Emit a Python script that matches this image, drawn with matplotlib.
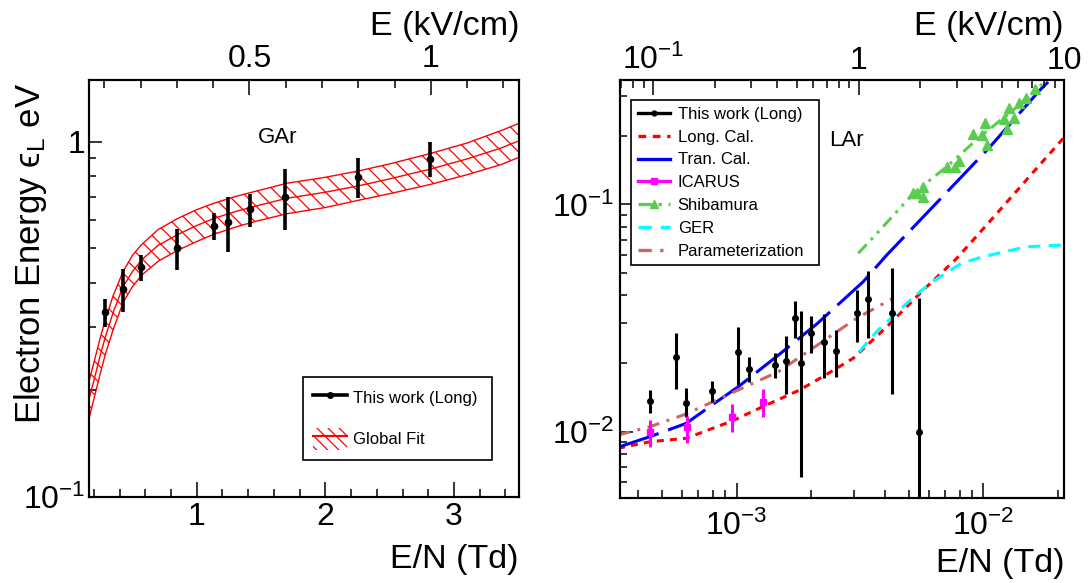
import numpy as np
import matplotlib.pyplot as plt
from matplotlib.lines import Line2D
from matplotlib.patches import Patch
from matplotlib.ticker import FuncFormatter, LogLocator, MultipleLocator, NullFormatter

plt.rcParams['font.family'] = ['Liberation Sans', 'DejaVu Sans']
plt.rcParams['mathtext.fontset'] = 'custom'
plt.rcParams['mathtext.rm'] = 'Liberation Sans'
plt.rcParams['mathtext.it'] = 'Liberation Sans:italic'
plt.rcParams['mathtext.bf'] = 'Liberation Sans:bold'
plt.rcParams['mathtext.fallback'] = 'stixsans'
plt.rcParams['hatch.linewidth'] = 0.9

# ---- GAr (left panel), E/N in Td, energy in eV ----
gar_en = [0.290, 0.427, 0.570, 0.847, 1.132, 1.241, 1.412, 1.686, 2.256, 2.815]
gar_val = [0.331, 0.385, 0.443, 0.501, 0.580, 0.595, 0.645, 0.700, 0.797, 0.894]
gar_hi = [0.360, 0.437, 0.480, 0.567, 0.631, 0.700, 0.712, 0.836, 0.901, 1.000]
gar_lo = [0.301, 0.331, 0.406, 0.435, 0.529, 0.487, 0.574, 0.564, 0.693, 0.797]

fit_en = [0.165, 0.2, 0.25, 0.29, 0.35, 0.427, 0.5, 0.57, 0.7, 0.847, 1.0,
          1.132, 1.3, 1.443, 1.7, 2.0, 2.256, 2.5, 2.815, 3.1, 3.37, 3.505]
fit_mid = [0.190, 0.212, 0.250, 0.282, 0.330, 0.390, 0.430, 0.464, 0.510, 0.546, 0.580,
           0.607, 0.635, 0.656, 0.692, 0.720, 0.750, 0.785, 0.836, 0.893, 0.960, 1.005]
fit_up = [0.213, 0.238, 0.280, 0.315, 0.368, 0.430, 0.478, 0.512, 0.565, 0.606, 0.643,
          0.670, 0.700, 0.722, 0.763, 0.793, 0.826, 0.865, 0.925, 0.990, 1.075, 1.125]
fit_lo = [0.167, 0.188, 0.222, 0.252, 0.295, 0.352, 0.390, 0.420, 0.460, 0.493, 0.523,
          0.548, 0.574, 0.594, 0.626, 0.652, 0.683, 0.713, 0.757, 0.806, 0.862, 0.903]

# ---- LAr (right panel) ----
lar_en = [4.46e-4, 5.66e-4, 6.25e-4, 7.96e-4, 1.016e-3, 1.122e-3, 1.429e-3, 1.578e-3, 1.726e-3,
          1.815e-3, 2.004e-3, 2.27e-3, 2.527e-3, 3.08e-3, 3.40e-3, 4.27e-3, 5.50e-3]
lar_val = [0.01368, 0.0213, 0.01337, 0.0152, 0.02239, 0.01898, 0.0197, 0.02058, 0.03178,
           0.02018, 0.02731, 0.02493, 0.02277, 0.03342, 0.03846, 0.03342, 0.0100]
lar_hi = [0.0153, 0.0272, 0.01567, 0.01683, 0.02904, 0.02142, 0.02218, 0.02643, 0.03776,
          0.03413, 0.03236, 0.0330, 0.0281, 0.04206, 0.0510, 0.0525, 0.0387]
lar_lo = [0.01208, 0.01545, 0.01167, 0.01359, 0.0161, 0.0165, 0.01721, 0.01469, 0.02583,
          0.00632, 0.02233, 0.01721, 0.01741, 0.02494, 0.02583, 0.01466, 0.0001]

icarus_en = [4.46e-4, 6.27e-4, 9.6e-4, 1.277e-3]
icarus_val = [0.00997, 0.01055, 0.01167, 0.01355]
icarus_hi = [0.0113, 0.01175, 0.01324, 0.01545]
icarus_lo = [0.00861, 0.00892, 0.00997, 0.01161]

long_en = [3.31e-4, 4.46e-4, 6.25e-4, 9.6e-4, 1.277e-3, 1.802e-3, 2.27e-3, 2.97e-3,
           4.06e-3, 5.71e-3, 7.8e-3, 1.13e-2, 1.62e-2, 2.12e-2]
long_val = [0.00848, 0.00906, 0.00938, 0.01118, 0.01292, 0.0153, 0.01768, 0.0211,
            0.0290, 0.0421, 0.058, 0.091, 0.1418, 0.197]

tran_en = [3.31e-4, 4.46e-4, 6.25e-4, 7.96e-4, 1.016e-3, 1.477e-3, 2.125e-3, 3.26e-3,
           4.06e-3, 7.8e-3, 1.064e-2, 1.694e-2, 1.95e-2]
tran_val = [0.00857, 0.00954, 0.01091, 0.01315, 0.01581, 0.02178, 0.0300, 0.0458,
            0.060, 0.1259, 0.1795, 0.3187, 0.37]

shib_line_en = [3.11e-3, 3.81e-3, 5.20e-3, 7.1e-3, 9.68e-3, 1.32e-2, 1.62e-2, 1.8e-2]
shib_line_val = [0.061, 0.0772, 0.1119, 0.1466, 0.1986, 0.260, 0.318, 0.352]
shib_en = [5.20e-3, 5.40e-3, 5.67e-3, 5.71e-3, 7.10e-3, 7.68e-3, 7.99e-3, 9.10e-3, 9.90e-3,
           1.031e-2, 1.018e-2, 1.212e-2, 1.243e-2, 1.274e-2, 1.334e-2, 1.398e-2, 1.488e-2, 1.619e-2]
shib_val = [0.1120, 0.1127, 0.1190, 0.1075, 0.1457, 0.1457, 0.1559, 0.2042, 0.2020,
            0.1826, 0.2274, 0.2375, 0.2140, 0.2665, 0.2392, 0.2803, 0.2928, 0.3208]

ger_en = [3.14e-3, 3.69e-3, 4.89e-3, 5.53e-3, 6.37e-3, 8.15e-3, 9.99e-3, 1.498e-2, 2.12e-2]
ger_val = [0.02253, 0.0276, 0.0368, 0.0414, 0.0466, 0.0552, 0.0590, 0.0652, 0.0664]

par_en = [3.31e-4, 4.46e-4, 6.25e-4, 1.016e-3, 1.477e-3, 2.125e-3, 3.06e-3, 4.27e-3]
par_val = [0.0097, 0.01055, 0.0120, 0.0153, 0.0184, 0.0241, 0.0316, 0.0385]

td_per_kv_gas = 2.82

GREEN = '#5ACD50'
BROWN = '#CC6666'
TICK = 23
LAB = 24.5
W, H = 1092, 583


def log_fmt(v, pos):
    if abs(v - 1) < 1e-9:
        return '1'
    if abs(v - 10) < 1e-9:
        return '10'
    return r'$10^{%d}$' % int(round(np.log10(v)))


def style(ax, xpad=3, ypad=3):
    for s in ax.spines.values():
        s.set_linewidth(1.5)
    ax.tick_params(which='both', direction='in', top=False, right=False,
                   labelsize=TICK, width=1.1)
    ax.tick_params(axis='x', which='major', length=11, pad=xpad)
    ax.tick_params(axis='x', which='minor', length=5.5)
    ax.tick_params(axis='y', which='major', length=9, pad=ypad)
    ax.tick_params(axis='y', which='minor', length=5)


fig = plt.figure(figsize=(10.92, 5.83), dpi=100)

# ================= left panel =================
ax1 = fig.add_axes([89.3 / W, 1 - 496.7 / H, 429.7 / W, 416.7 / H])
ax1.set_yscale('log')
ax1.set_xlim(0.165, 3.505)
ax1.set_ylim(0.1, 1.49)

ax1.fill_between(fit_en, fit_lo, fit_up, facecolor='none', edgecolor='red',
                 hatch='\\\\', linewidth=1.0)
ax1.plot(fit_en, fit_mid, color='red', lw=1.0)
g_val = np.array(gar_val)
ax1.errorbar(gar_en, gar_val, yerr=[g_val - np.array(gar_lo), np.array(gar_hi) - g_val],
             fmt='o', color='black', ms=4.5, elinewidth=2.6, capsize=0)

ax1.xaxis.set_major_locator(MultipleLocator(1))
ax1.xaxis.set_minor_locator(MultipleLocator(0.2))
ax1.yaxis.set_major_formatter(FuncFormatter(log_fmt))
ax1.yaxis.set_minor_formatter(NullFormatter())
style(ax1, xpad=4, ypad=3)

fig.text(258 / W, 1 - 143 / H, 'GAr', fontsize=16, va='baseline', ha='left')
ax1.text(1.0, -0.171, 'E/N (Td)', transform=ax1.transAxes, ha='right',
         va='baseline', fontsize=LAB)
ax1.text(1.0, 1.108, 'E (kV/cm)', transform=ax1.transAxes, ha='right',
         va='baseline', fontsize=LAB)
ax1.text(-0.138, 0.993, 'Electron Energy \u03f5$_{\\mathrm{L}}$ eV',
         transform=ax1.transAxes, rotation=90, ha='center', va='top', fontsize=25)

top1 = ax1.twiny()
top1.set_xlim(0.165 / td_per_kv_gas, 3.505 / td_per_kv_gas)
top1.xaxis.set_major_locator(MultipleLocator(0.5))
top1.xaxis.set_minor_locator(MultipleLocator(0.1))
top1.xaxis.set_major_formatter(FuncFormatter(lambda v, p: '%g' % v))
top1.tick_params(which='both', direction='in', labelsize=TICK, width=1.1, pad=4)
top1.tick_params(which='major', length=11)
top1.tick_params(which='minor', length=5.5)
for s in top1.spines.values():
    s.set_linewidth(1.5)

h_this = Line2D([], [], color='black', lw=2.6, marker='o', ms=4)
h_fit = (Patch(facecolor='none', edgecolor='red', hatch='\\\\\\', lw=0),
         Line2D([], [], color='red', lw=1.5))
leg1 = ax1.legend([h_this, h_fit], ['This work (Long)', 'Global Fit'],
                  loc='upper left', mode='expand',
                  bbox_to_anchor=((303.3 - 89.3) / 429.7, (496.7 - 376.7) / 416.7,
                                  188.4 / 429.7, 0.0),
                  borderaxespad=0, fontsize=12, frameon=True, fancybox=False,
                  edgecolor='black', framealpha=1, handlelength=2.0,
                  handleheight=1.7, handletextpad=0.4, labelspacing=1.1,
                  borderpad=0.6)
leg1.get_frame().set_linewidth(1.2)

# ================= right panel =================
ax2 = fig.add_axes([620 / W, 1 - 498.3 / H, 444 / W, 418.3 / H])
ax2.set_xscale('log')
ax2.set_yscale('log')
ax2.set_xlim(3.37e-4, 0.0212)
ax2.set_ylim(5.11e-3, 0.3526)

ax2.plot(long_en, long_val, color='red', lw=2.2, dashes=(2.3, 2.0))
ax2.plot(tran_en, tran_val, color='blue', lw=2.2, dashes=(14, 3.3))
ax2.plot(ger_en, ger_val, color='cyan', lw=2.2, dashes=(4, 2.7))
ax2.plot(par_en, par_val, color=BROWN, lw=2.2, dashes=(4, 2.5, 1, 2.5))
ax2.plot(shib_line_en, shib_line_val, color=GREEN, lw=2.2, dashes=(4, 2, 1, 2, 1, 2))
ax2.plot(shib_en, shib_val, ls='none', marker='^', color=GREEN, ms=7)

l_val = np.array(lar_val)
ax2.errorbar(lar_en, lar_val, yerr=[l_val - np.array(lar_lo), np.array(lar_hi) - l_val],
             fmt='o', color='black', ms=4, elinewidth=2.2, capsize=0)
i_val = np.array(icarus_val)
ax2.errorbar(icarus_en, icarus_val,
             yerr=[i_val - np.array(icarus_lo), np.array(icarus_hi) - i_val],
             fmt='s', color='magenta', ms=4.5, elinewidth=2.2, capsize=0)

ax2.xaxis.set_major_locator(LogLocator(base=10))
ax2.xaxis.set_minor_locator(LogLocator(base=10, subs=np.arange(2, 10)))
ax2.xaxis.set_major_formatter(FuncFormatter(log_fmt))
ax2.xaxis.set_minor_formatter(NullFormatter())
ax2.yaxis.set_major_locator(LogLocator(base=10))
ax2.yaxis.set_minor_locator(LogLocator(base=10, subs=np.arange(2, 10)))
ax2.yaxis.set_major_formatter(FuncFormatter(log_fmt))
ax2.yaxis.set_minor_formatter(NullFormatter())
style(ax2, xpad=9, ypad=4)

fig.text(829 / W, 1 - 145.7 / H, 'LAr', fontsize=16, va='baseline', ha='left')
ax2.text(1.0, -0.176, 'E/N (Td)', transform=ax2.transAxes, ha='right',
         va='baseline', fontsize=LAB)
ax2.text(1.0, 1.108, 'E (kV/cm)', transform=ax2.transAxes, ha='right',
         va='baseline', fontsize=LAB)

top2 = ax2.twiny()
top2.set_xscale('log')
top2.set_xlim(0.069, 10.0)
top2.xaxis.set_major_locator(LogLocator(base=10))
top2.xaxis.set_minor_locator(LogLocator(base=10, subs=np.arange(2, 10)))
top2.xaxis.set_major_formatter(FuncFormatter(log_fmt))
top2.xaxis.set_minor_formatter(NullFormatter())
top2.tick_params(which='both', direction='in', labelsize=TICK, width=1.1, pad=3)
top2.tick_params(which='major', length=11)
top2.tick_params(which='minor', length=5.5)
for s in top2.spines.values():
    s.set_linewidth(1.5)

handles2 = [
    Line2D([], [], color='black', lw=2.4, marker='o', ms=3.5),
    Line2D([], [], color='red', lw=2.4, dashes=(2.3, 2.0)),
    Line2D([], [], color='blue', lw=2.4),
    Line2D([], [], color='magenta', lw=2.4, marker='s', ms=5),
    Line2D([], [], color=GREEN, lw=2.4, dashes=(4, 2, 1, 2, 1, 2), marker='^', ms=6),
    Line2D([], [], color='cyan', lw=2.4, dashes=(4, 2.7)),
    Line2D([], [], color=BROWN, lw=2.4, dashes=(4, 2.5, 1, 2.5)),
]
labels2 = ['This work (Long)', 'Long. Cal.', 'Tran. Cal.', 'ICARUS', 'Shibamura',
           'GER', 'Parameterization']
leg2 = ax2.legend(handles2, labels2, loc='upper left', mode='expand',
                  bbox_to_anchor=((631 - 620) / 444, (498.3 - 100) / 418.3, 188 / 444, 0.0),
                  borderaxespad=0, fontsize=12, frameon=True, fancybox=False,
                  edgecolor='black', framealpha=1, handlelength=1.95,
                  handletextpad=0.45, labelspacing=0.47, borderpad=0.4)
leg2.get_frame().set_linewidth(1.2)

fig.savefig('out.png', dpi=100)
